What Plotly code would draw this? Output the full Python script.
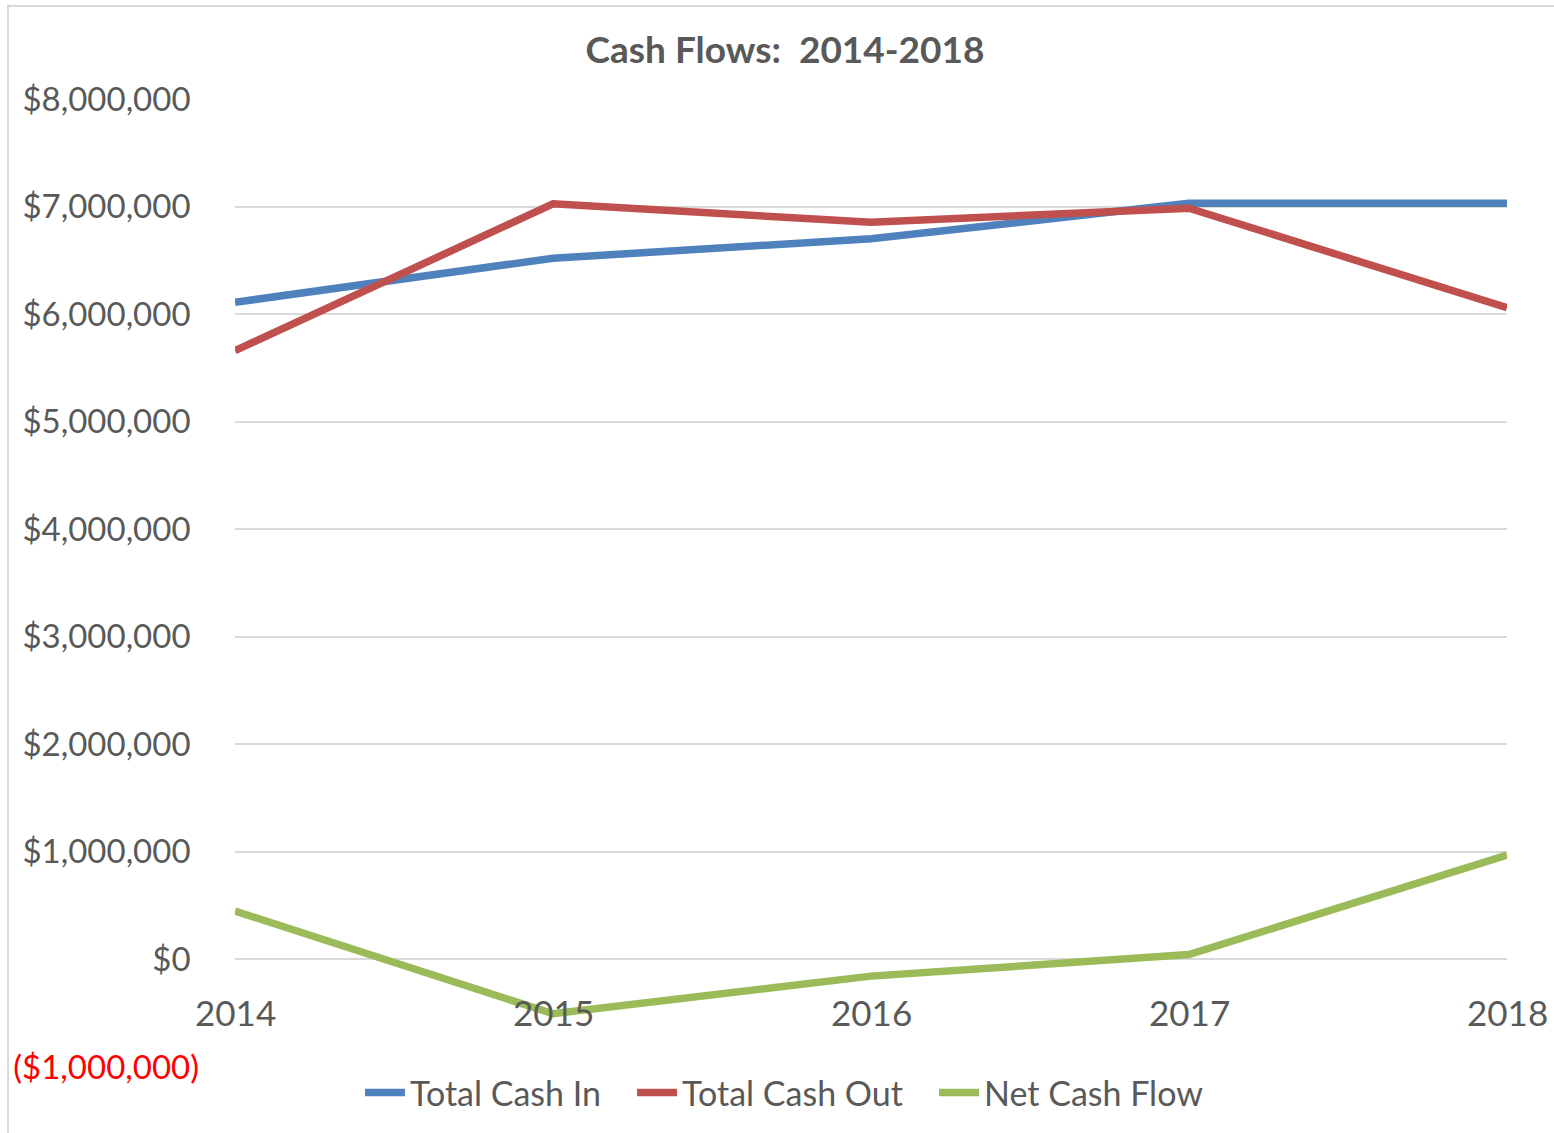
import plotly.graph_objects as go

# Yearly cash flow figures (USD)
years = [2014, 2015, 2016, 2017, 2018]
total_cash_in = [6110000, 6520000, 6700000, 7030000, 7030000]
total_cash_out = [5660000, 7025000, 6855000, 6985000, 6060000]
net_cash_flow = [450000, -505000, -155000, 45000, 970000]

# Accounting-style labels: positives keep a trailing space where ")" would be
y_tick_vals = [-1000000, 0, 1000000, 2000000, 3000000, 4000000, 5000000, 6000000, 7000000, 8000000]
y_tick_text = ['<span style="color:#FF0000">($1,000,000)</span>', "$0\u00a0", "$1,000,000\u00a0",
               "$2,000,000\u00a0", "$3,000,000\u00a0", "$4,000,000\u00a0", "$5,000,000\u00a0",
               "$6,000,000\u00a0", "$7,000,000\u00a0", "$8,000,000\u00a0"]

FONT = "Lato"
GREY = "#595959"

W, H = 1554, 1133
L, R, T, B = 235, 47, 99, 66
pw, ph = W - L - R, H - T - B

fig = go.Figure()
series = [
    ("Total Cash In", total_cash_in, "#4F81BD"),
    ("Total Cash Out", total_cash_out, "#C0504D"),
    ("Net Cash Flow", net_cash_flow, "#9BBB59"),
]
pad = "\u00a0" * 3
for name, vals, color in series:
    fig.add_trace(go.Scatter(
        x=years, y=vals, name=name + pad, mode="lines",
        line=dict(color=color, width=7.5),
    ))

# Category labels sit just under the $0 line
for yr in years:
    fig.add_annotation(
        x=yr, y=0, xref="x", yref="y", text=str(yr), showarrow=False,
        xanchor="center", yanchor="middle", yshift=-53,
        font=dict(family=FONT, size=35, color=GREY),
    )

# Outer chart border
fig.add_shape(
    type="rect", xref="paper", yref="paper",
    x0=(8 - L) / pw, x1=(W + 20 - L) / pw,
    y0=(H - B - (H + 20)) / ph, y1=1 + (T - 6) / ph,
    line=dict(color="#D9D9D9", width=2), fillcolor="rgba(0,0,0,0)", layer="below",
)

fig.update_layout(
    width=W, height=H,
    margin=dict(l=L, r=R, t=T, b=B, autoexpand=False),
    paper_bgcolor="white", plot_bgcolor="white",
    font=dict(family=FONT, color=GREY),
    title=dict(
        text="<b>Cash Flows:  2014-2018</b>",
        x=785 / W, xanchor="center", xref="container",
        y=1 - 50 / H, yanchor="middle", yref="container",
        font=dict(family=FONT, size=37, color=GREY),
    ),
    xaxis=dict(
        range=[2014, 2018], showgrid=False, zeroline=False,
        showticklabels=False, showline=False, ticks="", automargin=False,
    ),
    yaxis=dict(
        range=[-1000000, 8000000], tickvals=y_tick_vals, ticktext=y_tick_text,
        showgrid=True, gridcolor="#D9D9D9", gridwidth=1.5,
        zeroline=True, zerolinecolor="#D9D9D9", zerolinewidth=1.5,
        showline=False, ticks="", ticklabelstandoff=35, automargin=False,
        tickfont=dict(family=FONT, size=33, color=GREY),
    ),
    showlegend=True,
    legend=dict(
        orientation="h", x=(797 - L) / pw, xanchor="center",
        y=(H - B - 1093) / ph, yanchor="middle",
        font=dict(family=FONT, size=34, color=GREY),
        bgcolor="rgba(0,0,0,0)", itemwidth=40,
    ),
)

fig.write_html("out.html")
